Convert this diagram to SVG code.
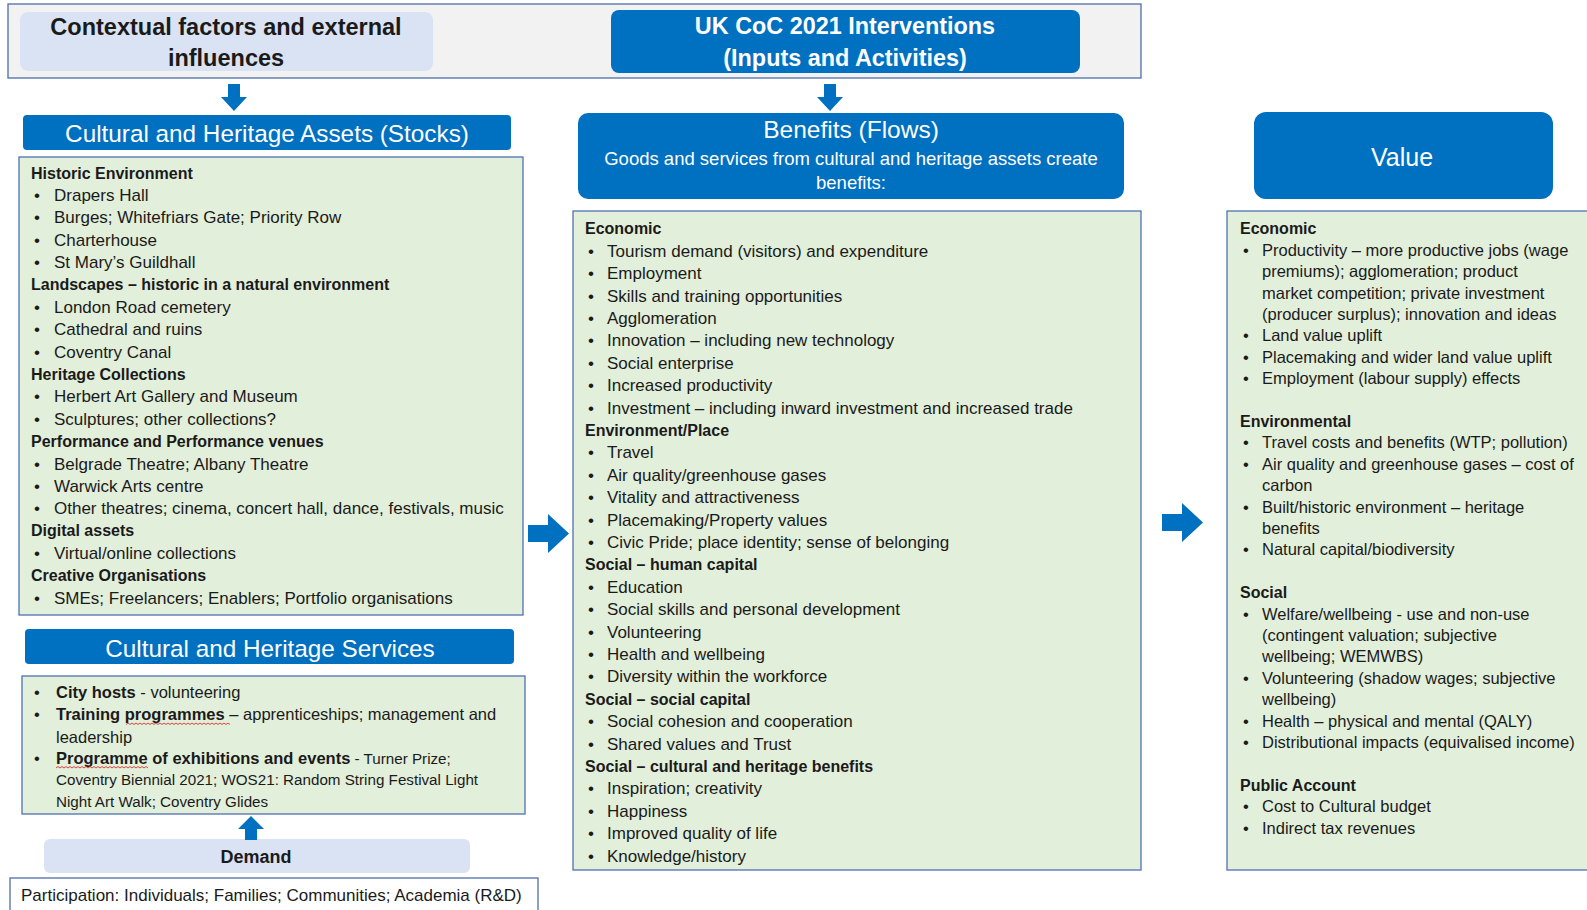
<svg xmlns="http://www.w3.org/2000/svg" width="1587" height="910" viewBox="0 0 1587 910">
<style>
text{font-family:"Liberation Sans",Arial,sans-serif;fill:#1a1a1a}
.t{font-size:17px}
.tv{font-size:16.5px}
.h{font-size:16px;font-weight:bold}
.s{font-size:15.2px}
.b{font-weight:bold}
.w{fill:#ffffff}
.blue{fill:#0070C0}
.lb{fill:#DAE3F3}
.grn{fill:#E2EFDA;stroke:#4F71B2;stroke-width:1.3}
.arr{fill:#0070C0}
.sq{fill:none;stroke:#e03030;stroke-width:0.9}
</style>
<rect width="1587" height="910" fill="#ffffff"/>

<g id="top-band">
<rect x="8" y="4" width="1133" height="74" fill="#F2F2F2" stroke="#4F6EA8" stroke-width="1.3"/>
</g>
<g id="contextual">
<rect x="20" y="12" width="413" height="59" rx="8" class="lb"/>
<text x="226" y="34.5" text-anchor="middle" font-size="23.5" class="b">Contextual factors and external</text>
<text x="226" y="66" text-anchor="middle" font-size="23.5" class="b">influences</text>
</g>
<g id="interventions">
<rect x="611" y="10" width="469" height="63" rx="8" class="blue"/>
<text x="845" y="33.5" text-anchor="middle" font-size="23.4" class="b w">UK CoC 2021 Interventions</text>
<text x="845" y="66" text-anchor="middle" font-size="23.4" class="b w">(Inputs and Activities)</text>
</g>

<g id="assets-header">
<rect x="23" y="115" width="488" height="35" rx="4" class="blue"/>
<text x="267" y="141.5" text-anchor="middle" font-size="24.3" class="w">Cultural and Heritage Assets (Stocks)</text>
</g>
<g id="assets-list">
<rect x="19" y="157" width="504" height="458" class="grn"/>
<text x="31" y="178.8" class="h">Historic Environment</text>
<text x="34" y="201" class="t">•</text><text x="54" y="201" class="t">Drapers Hall</text>
<text x="34" y="223.4" class="t">•</text><text x="54" y="223.4" class="t">Burges; Whitefriars Gate; Priority Row</text>
<text x="34" y="245.8" class="t">•</text><text x="54" y="245.8" class="t">Charterhouse</text>
<text x="34" y="268.2" class="t">•</text><text x="54" y="268.2" class="t">St Mary’s Guildhall</text>
<text x="31" y="290.4" class="h">Landscapes – historic in a natural environment</text>
<text x="34" y="312.9" class="t">•</text><text x="54" y="312.9" class="t">London Road cemetery</text>
<text x="34" y="335.3" class="t">•</text><text x="54" y="335.3" class="t">Cathedral and ruins</text>
<text x="34" y="357.7" class="t">•</text><text x="54" y="357.7" class="t">Coventry Canal</text>
<text x="31" y="379.8" class="h">Heritage Collections</text>
<text x="34" y="402.4" class="t">•</text><text x="54" y="402.4" class="t">Herbert Art Gallery and Museum</text>
<text x="34" y="424.8" class="t">•</text><text x="54" y="424.8" class="t">Sculptures; other collections?</text>
<text x="31" y="446.9" class="h">Performance and Performance venues</text>
<text x="34" y="469.5" class="t">•</text><text x="54" y="469.5" class="t">Belgrade Theatre; Albany Theatre</text>
<text x="34" y="491.9" class="t">•</text><text x="54" y="491.9" class="t">Warwick Arts centre</text>
<text x="34" y="514.3" class="t">•</text><text x="54" y="514.3" class="t">Other theatres; cinema, concert hall, dance, festivals, music</text>
<text x="31" y="536.4" class="h">Digital assets</text>
<text x="34" y="559" class="t">•</text><text x="54" y="559" class="t">Virtual/online collections</text>
<text x="31" y="581.2" class="h">Creative Organisations</text>
<text x="34" y="603.7" class="t">•</text><text x="54" y="603.7" class="t">SMEs; Freelancers; Enablers; Portfolio organisations</text>
</g>

<g id="services-header">
<rect x="25" y="629" width="489" height="35" rx="4" class="blue"/>
<text x="270" y="656.5" text-anchor="middle" font-size="24.3" class="w">Cultural and Heritage Services</text>
</g>
<g id="services-list">
<rect x="22" y="676" width="503" height="138" class="grn"/>
<text x="34" y="697.8" font-size="16.5">•</text><text x="56" y="697.8" font-size="16.5"><tspan class="b">City hosts</tspan> - volunteering</text>
<text x="34" y="720.2" font-size="16.5">•</text><text x="56" y="720.2" font-size="16.5"><tspan class="b">Training programmes</tspan> – apprenticeships; management and</text>
<text x="56" y="742.6" font-size="16.5">leadership</text>
<text x="34" y="763.8" font-size="16.5">•</text><text x="56" y="763.8" font-size="16.5"><tspan class="b">Programme of exhibitions and events</tspan><tspan font-size="15.2">  - Turner Prize;</tspan></text>
<text x="56" y="785.2" class="s">Coventry Biennial 2021; WOS21: Random String Festival Light</text>
<text x="56" y="806.6" class="s">Night Art Walk; Coventry Glides</text>
<path class="sq" d="M126 724.5 l2 -1.5 l2 1.5 l2 -1.5 l2 1.5 l2 -1.5 l2 1.5 l2 -1.5 l2 1.5 l2 -1.5 l2 1.5 l2 -1.5 l2 1.5 l2 -1.5 l2 1.5 l2 -1.5 l2 1.5 l2 -1.5 l2 1.5 l2 -1.5 l2 1.5 l2 -1.5 l2 1.5 l2 -1.5 l2 1.5 l2 -1.5 l2 1.5 l2 -1.5 l2 1.5 l2 -1.5 l2 1.5 l2 -1.5 l2 1.5 l2 -1.5 l2 1.5 l2 -1.5 l2 1.5 l2 -1.5 l2 1.5 l2 -1.5 l2 1.5 l2 -1.5 l2 1.5 l2 -1.5 l2 1.5 l2 -1.5 l2 1.5 l2 -1.5 l2 1.5 l2 -1.5 l2 1.5 l2 -1.5 l2 1.5"/>
<path class="sq" d="M56 768 l2 -1.5 l2 1.5 l2 -1.5 l2 1.5 l2 -1.5 l2 1.5 l2 -1.5 l2 1.5 l2 -1.5 l2 1.5 l2 -1.5 l2 1.5 l2 -1.5 l2 1.5 l2 -1.5 l2 1.5 l2 -1.5 l2 1.5 l2 -1.5 l2 1.5 l2 -1.5 l2 1.5 l2 -1.5 l2 1.5 l2 -1.5 l2 1.5 l2 -1.5 l2 1.5 l2 -1.5 l2 1.5 l2 -1.5 l2 1.5 l2 -1.5 l2 1.5 l2 -1.5 l2 1.5 l2 -1.5 l2 1.5 l2 -1.5 l2 1.5 l2 -1.5 l2 1.5 l2 -1.5 l2 1.5 l2 -1.5 l2 1.5"/>
</g>

<g id="demand">
<rect x="44" y="839" width="426" height="34" rx="6" class="lb"/>
<text x="256" y="862.5" text-anchor="middle" font-size="18" class="b">Demand</text>
</g>
<g id="participation">
<rect x="10" y="878" width="528" height="40" fill="#ffffff" stroke="#4F6EA8" stroke-width="1.3"/>
<text x="21" y="900.5" font-size="17">Participation: Individuals; Families; Communities; Academia (R&amp;D)</text>
</g>

<g id="benefits-header">
<rect x="578" y="113" width="546" height="86" rx="10" class="blue"/>
<text x="851" y="138" text-anchor="middle" font-size="24.5" class="w">Benefits (Flows)</text>
<text x="851" y="164.5" text-anchor="middle" font-size="18.5" class="w">Goods and services from cultural and heritage assets create</text>
<text x="851" y="188.5" text-anchor="middle" font-size="18.5" class="w">benefits:</text>
</g>
<g id="benefits-list">
<rect x="573" y="211" width="568" height="659" class="grn"/>
<text x="585" y="234.4" class="h">Economic</text>
<text x="588" y="256.8" class="t">•</text><text x="607" y="256.8" class="t">Tourism demand (visitors) and expenditure</text>
<text x="588" y="279.2" class="t">•</text><text x="607" y="279.2" class="t">Employment</text>
<text x="588" y="301.6" class="t">•</text><text x="607" y="301.6" class="t">Skills and training opportunities</text>
<text x="588" y="324" class="t">•</text><text x="607" y="324" class="t">Agglomeration</text>
<text x="588" y="346.4" class="t">•</text><text x="607" y="346.4" class="t">Innovation – including new technology</text>
<text x="588" y="368.8" class="t">•</text><text x="607" y="368.8" class="t">Social enterprise</text>
<text x="588" y="391.2" class="t">•</text><text x="607" y="391.2" class="t">Increased productivity</text>
<text x="588" y="413.6" class="t">•</text><text x="607" y="413.6" class="t">Investment – including inward investment and increased trade</text>
<text x="585" y="435.8" class="h">Environment/Place</text>
<text x="588" y="458.4" class="t">•</text><text x="607" y="458.4" class="t">Travel</text>
<text x="588" y="480.8" class="t">•</text><text x="607" y="480.8" class="t">Air quality/greenhouse gases</text>
<text x="588" y="503.2" class="t">•</text><text x="607" y="503.2" class="t">Vitality and attractiveness</text>
<text x="588" y="525.6" class="t">•</text><text x="607" y="525.6" class="t">Placemaking/Property values</text>
<text x="588" y="548" class="t">•</text><text x="607" y="548" class="t">Civic Pride; place identity; sense of belonging</text>
<text x="585" y="570.2" class="h">Social – human capital</text>
<text x="588" y="592.8" class="t">•</text><text x="607" y="592.8" class="t">Education</text>
<text x="588" y="615.2" class="t">•</text><text x="607" y="615.2" class="t">Social skills and personal development</text>
<text x="588" y="637.6" class="t">•</text><text x="607" y="637.6" class="t">Volunteering</text>
<text x="588" y="660" class="t">•</text><text x="607" y="660" class="t">Health and wellbeing</text>
<text x="588" y="682.4" class="t">•</text><text x="607" y="682.4" class="t">Diversity within the workforce</text>
<text x="585" y="704.6" class="h">Social – social capital</text>
<text x="588" y="727.2" class="t">•</text><text x="607" y="727.2" class="t">Social cohesion and cooperation</text>
<text x="588" y="749.6" class="t">•</text><text x="607" y="749.6" class="t">Shared values and Trust</text>
<text x="585" y="771.8" class="h">Social – cultural and heritage benefits</text>
<text x="588" y="794.4" class="t">•</text><text x="607" y="794.4" class="t">Inspiration; creativity</text>
<text x="588" y="816.8" class="t">•</text><text x="607" y="816.8" class="t">Happiness</text>
<text x="588" y="839.2" class="t">•</text><text x="607" y="839.2" class="t">Improved quality of life</text>
<text x="588" y="861.6" class="t">•</text><text x="607" y="861.6" class="t">Knowledge/history</text>
</g>

<g id="value-header">
<rect x="1254" y="112" width="299" height="87" rx="12" class="blue"/>
<text x="1402" y="165.5" text-anchor="middle" font-size="25" class="w">Value</text>
</g>
<g id="value-list">
<rect x="1227" y="211" width="372" height="659" class="grn"/>
<text x="1240" y="234.4" class="h">Economic</text>
<text x="1243" y="255.8" class="tv">•</text><text x="1262" y="255.8" class="tv">Productivity – more productive jobs (wage</text>
<text x="1262" y="277.2" class="tv">premiums); agglomeration; product</text>
<text x="1262" y="298.6" class="tv">market competition; private investment</text>
<text x="1262" y="320" class="tv">(producer surplus); innovation and ideas</text>
<text x="1243" y="341.4" class="tv">•</text><text x="1262" y="341.4" class="tv">Land value uplift</text>
<text x="1243" y="362.8" class="tv">•</text><text x="1262" y="362.8" class="tv">Placemaking and wider land value uplift</text>
<text x="1243" y="384.2" class="tv">•</text><text x="1262" y="384.2" class="tv">Employment (labour supply) effects</text>
<text x="1240" y="426.8" class="h">Environmental</text>
<text x="1243" y="448.4" class="tv">•</text><text x="1262" y="448.4" class="tv">Travel costs and benefits (WTP; pollution)</text>
<text x="1243" y="469.8" class="tv">•</text><text x="1262" y="469.8" class="tv">Air quality and greenhouse gases – cost of</text>
<text x="1262" y="491.2" class="tv">carbon</text>
<text x="1243" y="512.6" class="tv">•</text><text x="1262" y="512.6" class="tv">Built/historic environment – heritage</text>
<text x="1262" y="534" class="tv">benefits</text>
<text x="1243" y="555.4" class="tv">•</text><text x="1262" y="555.4" class="tv">Natural capital/biodiversity</text>
<text x="1240" y="598" class="h">Social</text>
<text x="1243" y="619.6" class="tv">•</text><text x="1262" y="619.6" class="tv">Welfare/wellbeing - use and non-use</text>
<text x="1262" y="641" class="tv">(contingent valuation; subjective</text>
<text x="1262" y="662.4" class="tv">wellbeing; WEMWBS)</text>
<text x="1243" y="683.8" class="tv">•</text><text x="1262" y="683.8" class="tv">Volunteering (shadow wages; subjective</text>
<text x="1262" y="705.2" class="tv">wellbeing)</text>
<text x="1243" y="726.6" class="tv">•</text><text x="1262" y="726.6" class="tv">Health – physical and mental (QALY)</text>
<text x="1243" y="748" class="tv">•</text><text x="1262" y="748" class="tv">Distributional impacts (equivalised income)</text>
<text x="1240" y="790.6" class="h">Public Account</text>
<text x="1243" y="812.2" class="tv">•</text><text x="1262" y="812.2" class="tv">Cost to Cultural budget</text>
<text x="1243" y="833.6" class="tv">•</text><text x="1262" y="833.6" class="tv">Indirect tax revenues</text>
</g>

<g id="connectors">
<path class="arr" d="M228 84 h12 v13 h7 l-13 14 l-13 -14 h7 z"/>
<path class="arr" d="M824 84 h12 v13 h7 l-13 14 l-13 -14 h7 z"/>
<path class="arr" d="M245 840 h12 v-11 h7 l-13 -13 l-13 13 h7 z"/>
<path class="arr" d="M528 525 h20 v-11 l21 19.5 l-21 19.5 v-11 h-20 z"/>
<path class="arr" d="M1162 514 h20 v-11 l21 19.5 l-21 19.5 v-11 h-20 z"/>
</g>
</svg>
